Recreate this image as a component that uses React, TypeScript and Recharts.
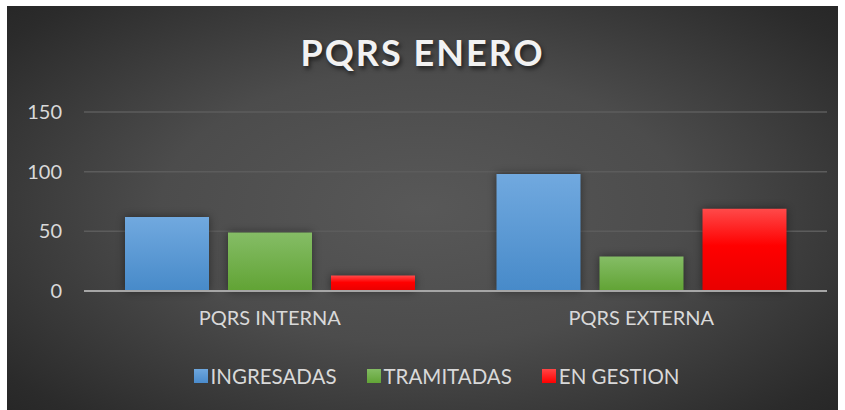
import { BarChart, Bar, XAxis, YAxis, CartesianGrid, Legend } from "recharts";

const categories = ["PQRS INTERNA", "PQRS EXTERNA"];
const ingresadas = [62, 98];
const tramitadas = [49, 29];
const enGestion = [13, 69];
const yTicks = [0, 50, 100, 150];

const series = [
  { key: "ingresadas", name: "INGRESADAS", fill: "url(#gBlue)", swatch: "linear-gradient(#6ea7de, #4a8bcc)" },
  { key: "tramitadas", name: "TRAMITADAS", fill: "url(#gGreen)", swatch: "linear-gradient(#83bc63, #62a436)" },
  { key: "enGestion", name: "EN GESTION", fill: "url(#gRed)", swatch: "linear-gradient(#ff4545, #ff0000)" },
];

const data = categories.map((name, i) => ({
  name,
  ingresadas: ingresadas[i],
  tramitadas: tramitadas[i],
  enGestion: enGestion[i],
}));

const FONT = "Lato, 'Open Sans', sans-serif";

function LegendContent() {
  return (
    <div
      style={{
        display: "flex",
        justifyContent: "center",
        alignItems: "center",
        height: 30,
        paddingLeft: 28,
        fontFamily: FONT,
        fontSize: 20.5,
        color: "#d9d9d9",
      }}
    >
      {series.map((s) => (
        <div key={s.key} style={{ display: "flex", alignItems: "center", margin: "0 15px" }}>
          <span style={{ width: 14, height: 14, background: s.swatch, marginRight: 3, display: "inline-block" }} />
          <span>{s.name}</span>
        </div>
      ))}
    </div>
  );
}

export default function App() {
  return (
    <div style={{ position: "absolute", left: 0, top: 0, width: 845, height: 410, background: "#fff" }}>
      <div
        style={{
          position: "absolute",
          left: 7,
          top: 6,
          width: 831,
          height: 404,
          background: "radial-gradient(ellipse 70% 75% at 50% 50%, #585858 0%, #4c4c4c 45%, #2b2b2b 90%, #262626 100%)",
        }}
      >
        <div
          style={{
            position: "absolute",
            left: 0,
            top: 24,
            width: 831,
            textAlign: "center",
            fontFamily: FONT,
            fontWeight: 700,
            fontSize: 36,
            letterSpacing: 2,
            color: "#f2f2f2",
            textShadow: "2px 3px 4px rgba(0,0,0,0.55)",
          }}
        >
          PQRS ENERO
        </div>
        <BarChart
          width={831}
          height={404}
          data={data}
          barSize={84}
          barGap={19}
          margin={{ top: 106, right: 11, left: 0, bottom: 19 }}
          style={{ position: "absolute", left: 0, top: 0 }}
        >
          <defs>
            <linearGradient id="gBlue" x1="0" y1="0" x2="0" y2="1">
              <stop offset="0%" stopColor="#71a9df" />
              <stop offset="100%" stopColor="#478ac9" />
            </linearGradient>
            <linearGradient id="gGreen" x1="0" y1="0" x2="0" y2="1">
              <stop offset="0%" stopColor="#85bd66" />
              <stop offset="100%" stopColor="#61a334" />
            </linearGradient>
            <linearGradient id="gRed" x1="0" y1="0" x2="0" y2="1">
              <stop offset="0%" stopColor="#ff4a4a" />
              <stop offset="45%" stopColor="#ff0000" />
              <stop offset="100%" stopColor="#e80000" />
            </linearGradient>
          </defs>
          <CartesianGrid vertical={false} stroke="#5c5c5c" strokeWidth={1.5} />
          <XAxis
            dataKey="name"
            height={70}
            axisLine={{ stroke: "#a6a6a6", strokeWidth: 2 }}
            tickLine={false}
            tick={{ fill: "#d9d9d9", fontSize: 20, fontFamily: FONT }}
            dy={12}
          />
          <YAxis
            width={77}
            domain={[0, 150]}
            ticks={yTicks}
            axisLine={false}
            tickLine={false}
            tick={{ fill: "#d9d9d9", fontSize: 20, fontFamily: FONT }}
            dx={-14}
          />
          <Legend verticalAlign="bottom" content={<LegendContent />} wrapperStyle={{ left: 0, width: 831 }} />
          {series.map((s) => (
            <Bar
              key={s.key}
              dataKey={s.key}
              name={s.name}
              fill={s.fill}
              isAnimationActive={false}
              style={{ filter: "drop-shadow(0px 0px 4px rgba(0,0,0,0.45))" }}
            />
          ))}
        </BarChart>
      </div>
    </div>
  );
}
